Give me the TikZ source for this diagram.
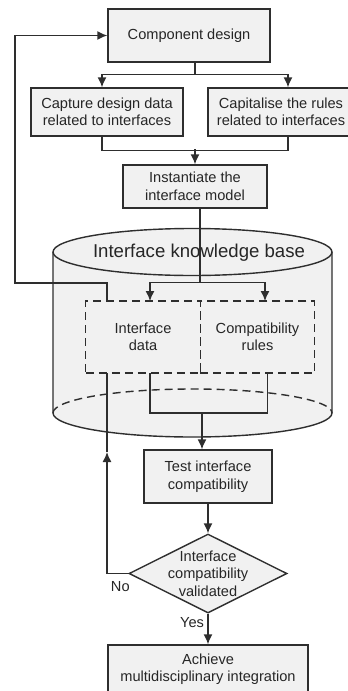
\documentclass[tikz,border=0pt]{standalone}
\usepackage{fontspec}
\setmainfont{Liberation Sans}
\usetikzlibrary{positioning,shapes.geometric,arrows.meta}
\definecolor{boxfill}{HTML}{F1F1F1}
\definecolor{linec}{HTML}{2E2E2E}
\begin{document}
\begin{tikzpicture}[x=1pt, y=-1pt, line width=1.4pt, draw=linec, text=black!85, >={Latex[length=10pt,width=9pt]}, font=\fontsize{14.6}{17.5}\selectfont,
  main/.style = {draw=linec, fill=boxfill, align=center, inner sep=2pt},
  dbox/.style = {draw=linec, dash pattern=on 8pt off 5pt, align=center, minimum width=114.5, minimum height=72, inner sep=0pt, outer sep=0pt},
  dec/.style = {draw=linec, fill=boxfill, diamond, minimum width=158, minimum height=79, inner sep=0pt}]
\useasboundingbox (0,0) rectangle (348,691);
% knowledge base cylinder
\fill[boxfill] (53,252) -- (53,413) arc[start angle=180, end angle=0, x radius=139.5, y radius=24] -- (332,252) -- cycle;
\draw[linec] (53,252) -- (53,413) arc[start angle=180, end angle=0, x radius=139.5, y radius=24] -- (332,252);
\draw[linec, dash pattern=on 8pt off 5pt] (53,413) arc[start angle=180, end angle=360, x radius=139.5, y radius=24];
\draw[linec, fill=boxfill] (192.5,252) ellipse[x radius=139.5, y radius=23.5];
\node[main, minimum width=162, minimum height=53] (1) at (189,35.5) {Component design};
\node[main, minimum width=152, minimum height=48] (2) at (107,112) {Capture design data\\related to interfaces};
\node[main, minimum width=146, minimum height=48] (3) at (281,112) {Capitalise the rules\\related to interfaces};
\node[main, minimum width=144, minimum height=43] (4) at (195,186.5) {Instantiate the\\interface model};
\node[font=\fontsize{18.6}{22}\selectfont] (5) at (199,253) {Interface knowledge base};
\node[dbox] (6) at (143,337) {Interface\\data};
\node[dbox] (7) [right=0pt of 6] {Compatibility\\rules};
\node[main, minimum width=128, minimum height=53] (8) at (208,476.5) {Test interface\\compatibility};
\node[dec, label={[align=center]center:Interface\\compatibility\\validated}] (9) at (208,573.5) {};
\node[main, minimum width=200, minimum height=48] (10) at (208,669) {Achieve\\multidisciplinary integration};
\node (11) at ([xshift=-8pt,yshift=-13pt]9.west) {No};
\coordinate (fb) at (15,283);
\coordinate (noarr) at (107,452);
\draw[->] ([xshift=6pt]1.south) -- ++(0,12) -| ([xshift=-5pt]2.north);
\draw[->] ([xshift=6pt]1.south) -- ++(0,12) -| ([xshift=7pt]3.north);
\draw ([xshift=-5pt]2.south) -- ++(0,14) -| ([xshift=7pt]3.south);
\draw[->] ([yshift=15pt]4.north) -- (4.north);
\draw[->] ([xshift=5pt]4.south) -- ++(0,74) -| ([xshift=7pt]6.north);
\draw[->] ([xshift=5pt]4.south) -- ++(0,74) -| ([xshift=7.5pt]7.north);
\draw[->] ([xshift=-36pt]6.north) |- (fb) |- (1.west);
\draw ([xshift=7pt]6.south) -- ++(0,40) -| ([xshift=10pt]7.south);
\draw[->] ([xshift=-6pt,yshift=37pt]8.north) -- ([xshift=-6pt]8.north);
\draw[->] (8.south) -- (9.north);
\draw[->] (9.south) -- node[left, pos=0.3] {Yes} (10.north);
\draw[->] (9.west) -| (noarr);
\draw (noarr) -- ([xshift=-36pt]6.south);
\end{tikzpicture}
\end{document}
